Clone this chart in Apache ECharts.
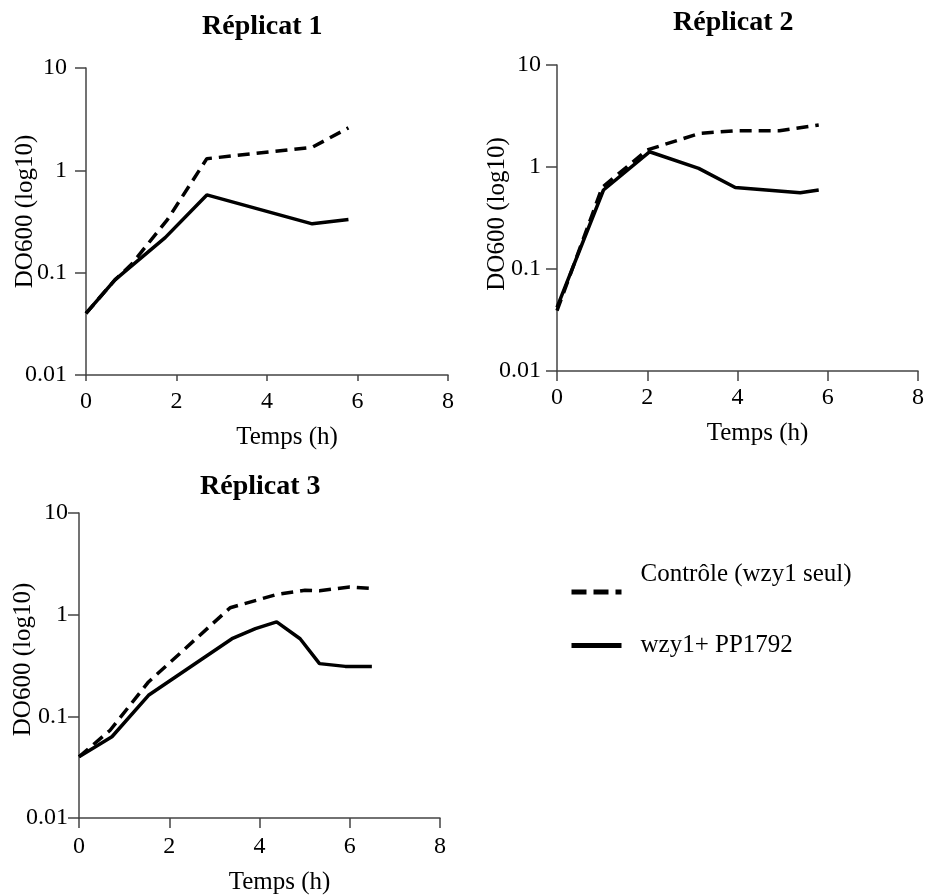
<!DOCTYPE html>
<html>
<head>
<meta charset="utf-8">
<script src="https://cdn.jsdelivr.net/npm/echarts@6/dist/echarts.min.js"></script>
<style>
  html, body { margin: 0; padding: 0; background: #fff; }
  #chart { width: 925px; height: 896px; }
</style>
</head>
<body>
<div id="chart"></div>
<script>
// Data: [time (h), DO600]
const panelTitles = ['Réplicat 1', 'Réplicat 2', 'Réplicat 3'];
const seriesNames = ['Contrôle (wzy1 seul)', 'wzy1+ PP1792'];
const xTicks = [0, 2, 4, 6, 8];
const yTicks = [0.01, 0.1, 1, 10];

const rep1Control = [[0, 0.04], [0.64, 0.085], [1.0, 0.12], [1.8, 0.33], [2.67, 1.3], [5.0, 1.68], [5.8, 2.6]];
const rep1Test = [[0, 0.04], [0.64, 0.085], [1.75, 0.22], [2.67, 0.575], [5.0, 0.30], [5.8, 0.33]];

const rep2Control = [[0, 0.039], [1.0, 0.63], [2.0, 1.47], [3.17, 2.14], [3.97, 2.27], [4.93, 2.27], [5.8, 2.58]];
const rep2Test = [[0, 0.042], [1.03, 0.595], [2.05, 1.41], [3.14, 0.97], [3.95, 0.63], [5.39, 0.56], [5.8, 0.595]];

const rep3Control = [[0, 0.04], [0.69, 0.073], [1.54, 0.218], [3.35, 1.17], [4.38, 1.58], [5.01, 1.74], [5.33, 1.72], [6.0, 1.87], [6.49, 1.81]];
const rep3Test = [[0, 0.04], [0.73, 0.063], [1.54, 0.161], [3.39, 0.58], [3.91, 0.73], [4.38, 0.85], [4.9, 0.58], [5.33, 0.33], [5.9, 0.31], [6.49, 0.31]];

const controlData = [rep1Control, rep2Control, rep3Control];
const testData = [rep1Test, rep2Test, rep3Test];

// Layout of the three panels (left, top, width, height)
const boxes = [[86, 68, 362, 307], [557, 65, 361, 306], [79, 513, 361, 305]];
const titleLeft = [[202, 13], [673, 9], [200, 473]];
const yLabelMargin = [19, 16, 11];
const xTickLen = [6, 10, 10];
const xLabelMargin = [15, 15, 17];
const xNameGap = [50, 50, 52];
const yNameGap = [48, 47, 43];
const yNamePad = [20, 8, 12];

const FONT = 'Liberation Serif';
const AXIS_COLOR = '#444';

let chart = echarts.init(document.getElementById('chart'));

const fmtY = function (v) {
    return String(+(+v).toPrecision(2));
};

let grids = [], xAxes = [], yAxes = [], series = [];

boxes.forEach((b, i) => {
    grids.push({ left: b[0], top: b[1], width: b[2], height: b[3], outerBoundsMode: 'none', containLabel: false });

    xAxes.push({
        type: 'value',
        gridIndex: i,
        min: xTicks[0],
        max: xTicks[xTicks.length - 1],
        interval: 2,
        name: 'Temps (h)',
        nameLocation: 'middle',
        nameGap: xNameGap[i],
        nameMoveOverlap: false,
        nameTextStyle: { fontFamily: FONT, fontSize: 25, color: '#000', padding: [0, 0, 0, 40] },
        axisLine: { onZero: false, lineStyle: { color: AXIS_COLOR, width: 1.5 } },
        axisTick: { show: true, length: xTickLen[i], lineStyle: { color: AXIS_COLOR, width: 1.5 } },
        axisLabel: { fontFamily: FONT, fontSize: 24, color: '#000', margin: xLabelMargin[i] },
        splitLine: { show: false }
    });

    yAxes.push({
        type: 'log',
        logBase: 10,
        gridIndex: i,
        min: yTicks[0],
        max: yTicks[yTicks.length - 1],
        name: 'DO600 (log10)',
        nameLocation: 'middle',
        nameGap: yNameGap[i],
        nameMoveOverlap: false,
        nameTextStyle: { fontFamily: FONT, fontSize: 25, color: '#000', padding: [0, 0, 0, yNamePad[i]] },
        axisLine: { show: true, lineStyle: { color: AXIS_COLOR, width: 1.5 } },
        axisTick: { show: true, length: 11, lineStyle: { color: AXIS_COLOR, width: 1.5 } },
        minorTick: { show: false },
        axisLabel: { fontFamily: FONT, fontSize: 24, color: '#000', margin: yLabelMargin[i], formatter: fmtY },
        splitLine: { show: false }
    });

    series.push({
        name: seriesNames[0],
        type: 'line',
        xAxisIndex: i,
        yAxisIndex: i,
        data: controlData[i],
        symbol: 'none',
        silent: true,
        lineStyle: { color: '#000', width: 3.5, type: [12, 7] }
    });
    series.push({
        name: seriesNames[1],
        type: 'line',
        xAxisIndex: i,
        yAxisIndex: i,
        data: testData[i],
        symbol: 'none',
        silent: true,
        lineStyle: { color: '#000', width: 3.5, type: 'solid' }
    });
});

const legendBase = {
    orient: 'vertical',
    left: 569,
    padding: 0,
    itemWidth: 50,
    itemHeight: 14,
    selectedMode: false,
    itemStyle: { opacity: 0 }
};

chart.setOption({
    animation: false,
    textStyle: { fontFamily: FONT },
    title: panelTitles.map((t, i) => ({
        text: t,
        left: titleLeft[i][0],
        top: titleLeft[i][1],
        padding: 0,
        textStyle: { fontFamily: FONT, fontSize: 28, fontWeight: 'bold', color: '#000' }
    })),
    legend: [
        Object.assign({}, legendBase, {
            top: 556,
            data: [seriesNames[0]],
            // text sits above its dashed sample in the original
            formatter: name => name + '\n ',
            lineStyle: { width: 5, color: '#000', type: [15, 7] },
            textStyle: { fontFamily: FONT, fontSize: 25, color: '#000', lineHeight: 36, padding: [0, 0, 0, 14] }
        }),
        Object.assign({}, legendBase, {
            top: 633,
            data: [seriesNames[1]],
            lineStyle: { width: 5, color: '#000', type: 'solid' },
            textStyle: { fontFamily: FONT, fontSize: 25, color: '#000', padding: [0, 0, 0, 14] }
        })
    ],
    grid: grids,
    xAxis: xAxes,
    yAxis: yAxes,
    series: series
});
</script>
</body>
</html>
